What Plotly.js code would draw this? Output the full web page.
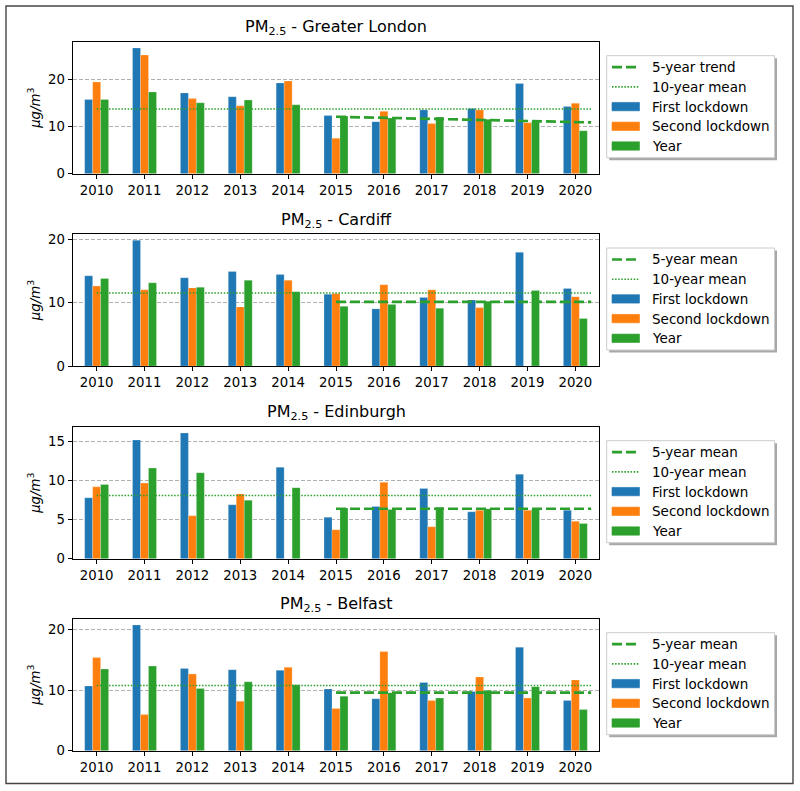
<!DOCTYPE html>
<html>
<head>
<meta charset="utf-8">
<script src="https://cdn.plot.ly/plotly-3.0.1.min.js"></script>
<style>
  html, body { margin: 0; padding: 0; background: #fff; }
  #chart { width: 800px; height: 791px; }
</style>
</head>
<body>
<div id="chart"></div>
<script>
// ---------------- DATA ----------------
const years = [2010, 2011, 2012, 2013, 2014, 2015, 2016, 2017, 2018, 2019, 2020];

const cityNames = ["Greater London", "Cardiff", "Edinburgh", "Belfast"];
const fiveYearLabels = ["5-year trend", "5-year mean", "5-year mean", "5-year mean"];
const seriesNames = ["First lockdown", "Second lockdown", "Year"];
const tenYearLabel = "10-year mean";

const londonFirst  = [15.7, 26.6, 17.1, 16.3, 19.2, 12.3, 11.0, 13.5, 13.8, 19.1, 14.2];
const londonSecond = [19.4, 25.1, 15.9, 14.4, 19.6, 7.5, 13.2, 10.6, 13.5, 10.8, 14.9];
const londonYear   = [15.7, 17.3, 15.0, 15.6, 14.6, 12.2, 11.8, 12.0, 11.5, 11.0, 9.1];
const londonTenYearMean = 13.7;
const londonFiveYear = [12.05, 10.85];   // trend: start (2015) and end values

const cardiffFirst  = [14.2, 19.8, 13.9, 14.9, 14.4, 11.3, 9.0, 10.8, 10.4, 17.9, 12.2];
const cardiffSecond = [12.6, 12.0, 12.3, 9.3, 13.5, 11.4, 12.8, 12.0, 9.2, null, 10.9];
const cardiffYear   = [13.8, 13.1, 12.4, 13.5, 11.7, 9.4, 9.7, 9.1, 10.2, 11.9, 7.5];
const cardiffTenYearMean = 11.5;
const cardiffFiveYear = [10.1, 10.1];

const edinburghFirst  = [7.8, 15.2, 16.1, 6.9, 11.7, 5.3, 6.7, 9.0, 6.0, 10.8, 6.2];
const edinburghSecond = [9.2, 9.7, 5.5, 8.3, null, 3.7, 9.8, 4.1, 6.2, 6.2, 4.8];
const edinburghYear   = [9.5, 11.6, 11.0, 7.5, 9.1, 6.5, 6.3, 6.6, 6.4, 6.3, 4.5];
const edinburghTenYearMean = 8.1;
const edinburghFiveYear = [6.4, 6.4];

const belfastFirst  = [10.7, 20.8, 13.6, 13.4, 13.3, 10.2, 8.6, 11.3, 9.8, 17.1, 8.3];
const belfastSecond = [15.4, 6.0, 12.7, 8.2, 13.8, 7.0, 16.4, 8.3, 12.2, 8.7, 11.7];
const belfastYear   = [13.5, 14.0, 10.3, 11.4, 10.9, 9.0, 9.6, 8.7, 10.0, 10.6, 6.8];
const belfastTenYearMean = 10.8;
const belfastFiveYear = [9.6, 9.6];

const yTickSteps = [10, 10, 5, 10];

// ---------------- STYLE / LAYOUT ----------------
const colors = ["#1f77b4", "#ff7f0e", "#2ca02c"];
const lineGreen = "#2ca02c";
const FONT = "DejaVu Sans, Liberation Sans, sans-serif";
const W = 800, H = 791;
const px = x => x / W;
const py = y => 1 - y / H;

const plotLeft = 72.7, plotRight = 599.3, plotH = 132;
const panelTops = [41.7, 234, 426.7, 618.7];

const panels = [
  { first: londonFirst, second: londonSecond, year: londonYear, ten: londonTenYearMean, five: londonFiveYear },
  { first: cardiffFirst, second: cardiffSecond, year: cardiffYear, ten: cardiffTenYearMean, five: cardiffFiveYear },
  { first: edinburghFirst, second: edinburghSecond, year: edinburghYear, ten: edinburghTenYearMean, five: edinburghFiveYear },
  { first: belfastFirst, second: belfastSecond, year: belfastYear, ten: belfastTenYearMean, five: belfastFiveYear }
];

const lineEndExtra = 0.33;
const traces = [];
const layout = {
  width: W, height: H,
  margin: { l: 0, r: 0, t: 0, b: 0 },
  paper_bgcolor: "#fff", plot_bgcolor: "#fff",
  barmode: "group", bargap: 0.5, bargroupgap: 0,
  showlegend: false,
  font: { family: FONT, color: "#000", size: 13.3 },
  shapes: [], annotations: []
};

panels.forEach((p, i) => {
  const n = i + 1;
  const xa = "x" + (n === 1 ? "" : n), ya = "y" + (n === 1 ? "" : n);
  const xk = "xaxis" + (n === 1 ? "" : n), yk = "yaxis" + (n === 1 ? "" : n);
  const T = panelTops[i], B = T + plotH;

  [p.first, p.second, p.year].forEach((vals, k) => {
    traces.push({
      type: "bar", x: years, y: vals, name: seriesNames[k],
      xaxis: xa, yaxis: ya,
      marker: { color: colors[k], line: { color: "rgba(255,255,255,0.35)", width: 0.6 } },
      hoverinfo: "x+y+name"
    });
  });
  // 10-year mean (dotted)
  traces.push({
    type: "scatter", mode: "lines", name: tenYearLabel,
    x: [years[0], years[years.length - 1] + lineEndExtra], y: [p.ten, p.ten],
    xaxis: xa, yaxis: ya,
    line: { color: lineGreen, width: 1.6, dash: "1.5px,1.6px" }
  });
  // 5-year trend / mean (dashed)
  traces.push({
    type: "scatter", mode: "lines", name: fiveYearLabels[i],
    x: [years[5], years[years.length - 1] + lineEndExtra], y: p.five,
    xaxis: xa, yaxis: ya,
    line: { color: lineGreen, width: 2.7, dash: "10px,4px" }
  });

  const maxV = Math.max(...p.first.concat(p.second, p.year).filter(v => v != null));
  layout[xk] = {
    domain: [px(plotLeft), px(plotRight)], anchor: ya,
    range: [years[0] - 0.5, years[years.length - 1] + 0.5],
    tickvals: years, ticktext: years.map(String),
    ticks: "outside", ticklen: 4, tickwidth: 1, tickcolor: "#000",
    showline: true, mirror: true, linecolor: "#000", linewidth: 1.1,
    showgrid: false, zeroline: false, automargin: false,
    tickfont: { family: FONT, size: 13.3, color: "#000" }
  };
  layout[yk] = {
    domain: [py(B), py(T)], anchor: xa,
    range: [0, maxV * 1.05], dtick: yTickSteps[i], tick0: 0,
    ticks: "outside", ticklen: 4, tickwidth: 1, tickcolor: "#000",
    showline: true, mirror: true, linecolor: "#000", linewidth: 1.1,
    showgrid: true, gridcolor: "#b0b0b0", gridwidth: 1, griddash: "4px,2px",
    zeroline: false, automargin: false,
    tickfont: { family: FONT, size: 13.3, color: "#000" },
    title: { text: "<i>μg/m</i><sup>3</sup>", font: { family: FONT, size: 13.3, color: "#000" }, standoff: 4 }
  };

  // subplot title
  layout.annotations.push({
    xref: "paper", yref: "paper", x: px((plotLeft + plotRight) / 2), y: py(T - 1.5),
    xanchor: "center", yanchor: "bottom", showarrow: false,
    text: "PM<sub>2.5</sub> - " + cityNames[i],
    font: { family: FONT, size: 16, color: "#000" }
  });

  // legend (manual, matplotlib style)
  const lx0 = 606.7, lx1 = 774.5, ly0 = T + 14, ly1 = T + 116;
  layout.shapes.push({ type: "rect", xref: "paper", yref: "paper", x0: px(lx0 + 2.5), x1: px(lx1 + 2.5), y0: py(ly1 + 2.5), y1: py(ly0 + 2.5), fillcolor: "#a8a8a8", line: { width: 0 }, layer: "above" });
  layout.shapes.push({ type: "rect", xref: "paper", yref: "paper", x0: px(lx0), x1: px(lx1), y0: py(ly1), y1: py(ly0), fillcolor: "#fff", line: { color: "#cccccc", width: 1 }, layer: "above" });
  const hx0 = 612, hx1 = 639.5;
  const labels = [fiveYearLabels[i], tenYearLabel].concat(seriesNames);
  labels.forEach((lab, r) => {
    const ry = T + 25.5 + 19.7 * r;
    if (r === 0) {
      layout.shapes.push({ type: "line", xref: "paper", yref: "paper", x0: px(hx0), x1: px(hx1), y0: py(ry), y1: py(ry), line: { color: lineGreen, width: 2.7, dash: "10px,4px" }, layer: "above" });
    } else if (r === 1) {
      layout.shapes.push({ type: "line", xref: "paper", yref: "paper", x0: px(hx0), x1: px(hx1), y0: py(ry), y1: py(ry), line: { color: lineGreen, width: 1.6, dash: "1.5px,1.6px" }, layer: "above" });
    } else {
      layout.shapes.push({ type: "rect", xref: "paper", yref: "paper", x0: px(hx0), x1: px(hx1), y0: py(ry + 4.2), y1: py(ry - 4.2), fillcolor: colors[r - 2], line: { color: colors[r - 2], width: 0.6 }, layer: "above" });
    }
    layout.annotations.push({
      xref: "paper", yref: "paper", x: px(650), y: py(ry), xanchor: "left", yanchor: "middle",
      showarrow: false, text: lab, font: { family: FONT, size: 13.5, color: "#000" }
    });
  });
});

// outer figure frame
layout.shapes.push({ type: "rect", xref: "paper", yref: "paper", x0: px(6), x1: px(793), y0: py(783.5), y1: py(6), fillcolor: "rgba(0,0,0,0)", line: { color: "#444", width: 1.4 }, layer: "above" });

Plotly.newPlot("chart", traces, layout, { displayModeBar: false, staticPlot: true });
</script>
</body>
</html>
